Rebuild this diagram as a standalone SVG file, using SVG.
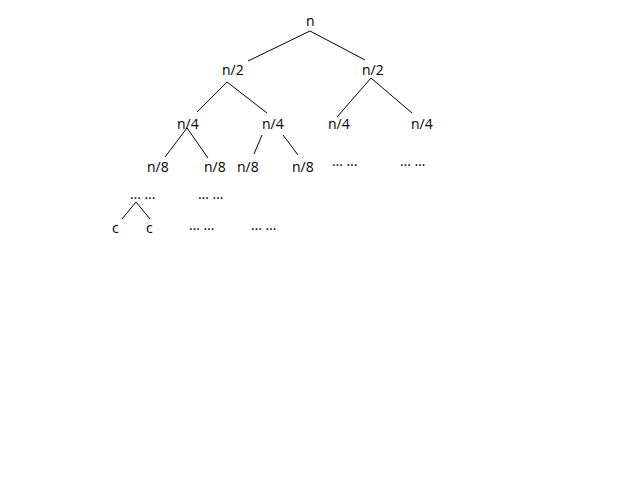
<svg xmlns="http://www.w3.org/2000/svg" width="640" height="480" viewBox="0 0 640 480">
<style>
text{font-family:"Open Sans","Liberation Sans",sans-serif;font-size:14px;fill:#000}
line{stroke:#000;stroke-width:1}
</style>
<rect width="640" height="480" fill="#fff"/>
<g id="connectors">
<line x1="310" y1="31" x2="248" y2="61"/>
<line x1="310" y1="31" x2="365" y2="60"/>
<line x1="227" y1="82" x2="197" y2="112"/>
<line x1="227" y1="82" x2="267" y2="113"/>
<line x1="371" y1="78" x2="337" y2="117"/>
<line x1="371" y1="78" x2="412" y2="113"/>
<line x1="187" y1="128" x2="165" y2="157"/>
<line x1="187" y1="128" x2="208" y2="158"/>
<line x1="262" y1="135" x2="254" y2="154"/>
<line x1="283" y1="135" x2="298" y2="155"/>
<line x1="136" y1="202" x2="122" y2="219"/>
<line x1="136" y1="202" x2="150" y2="219"/>
</g>
<g id="root"><text x="306" y="26">n</text></g>
<g id="n2a"><text x="222" y="75">n/2</text></g>
<g id="n2b"><text x="362" y="75">n/2</text></g>
<g id="n4a"><text x="177" y="129">n/4</text></g>
<g id="n4b"><text x="262" y="129">n/4</text></g>
<g id="n4c"><text x="328" y="129">n/4</text></g>
<g id="n4d"><text x="411" y="129">n/4</text></g>
<g id="n8a"><text x="147" y="172">n/8</text></g>
<g id="n8b"><text x="204" y="172">n/8</text></g>
<g id="n8c"><text x="237" y="172">n/8</text></g>
<g id="n8d"><text x="292" y="172">n/8</text></g>
<g id="e1"><text x="332" y="166">… …</text></g>
<g id="e2"><text x="400" y="166">… …</text></g>
<g id="e3"><text x="130" y="199">… …</text></g>
<g id="e4"><text x="198" y="199">… …</text></g>
<g id="c1"><text x="112" y="233">c</text></g>
<g id="c2"><text x="146" y="233">c</text></g>
<g id="e5"><text x="189" y="230">… …</text></g>
<g id="e6"><text x="251" y="230">… …</text></g>
</svg>
